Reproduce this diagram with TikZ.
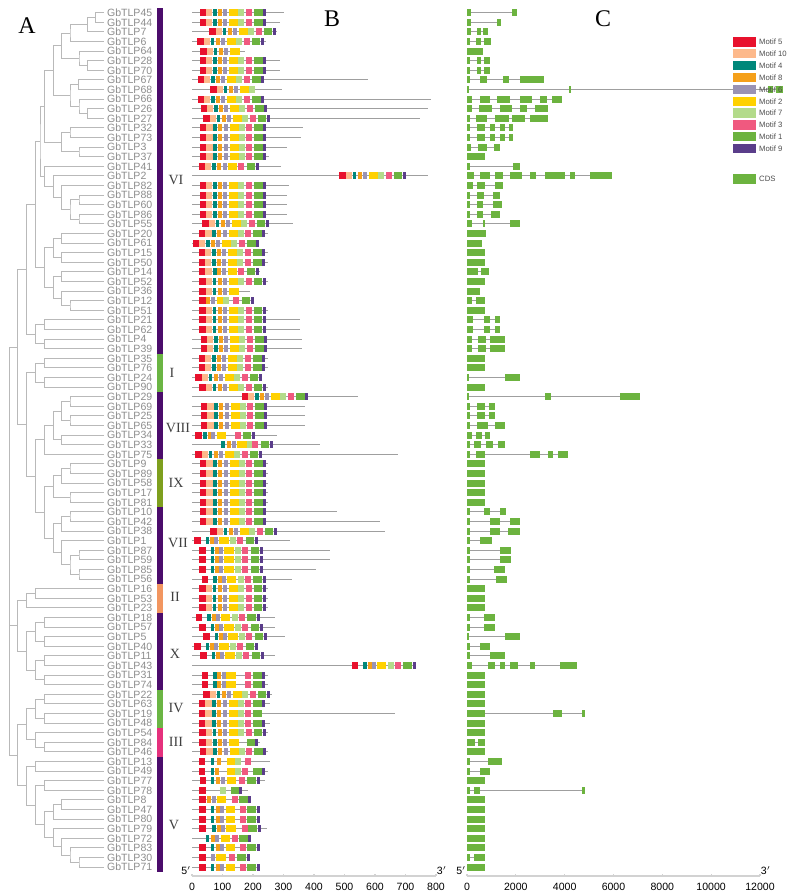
\documentclass[tikz,border=0pt]{standalone}
\usepackage{fontspec}
\setmainfont{Liberation Serif}
\setsansfont{Liberation Sans}
\usetikzlibrary{calc}

% motif colours
\definecolor{mot1}{HTML}{6CB33F}
\definecolor{mot2}{HTML}{FFD100}
\definecolor{mot3}{HTML}{F0597F}
\definecolor{mot4}{HTML}{00877A}
\definecolor{mot5}{HTML}{E8112D}
\definecolor{mot6}{HTML}{9A93B4}
\definecolor{mot7}{HTML}{B3DB8A}
\definecolor{mot8}{HTML}{F5A01A}
\definecolor{mot9}{HTML}{5A3D8A}
\definecolor{mot10}{HTML}{FDB98B}
\definecolor{cdsgreen}{HTML}{6CB33F}
% group colours
\definecolor{grppurple}{HTML}{4B0C6B}
\definecolor{grpgreen}{HTML}{6BB544}
\definecolor{grpolive}{HTML}{7E9F1E}
\definecolor{grporange}{HTML}{F29660}
\definecolor{grppink}{HTML}{E5317D}
\definecolor{labgray}{HTML}{8C8C8C}

% offsets of the motifs, index = motif number
\def\offA{{0,54.3,29.7,46.3,13.3,0,23.7,38.7,18.3,63.3,6.3}}
\def\offB{{0,51.4,24.7,43,11.4,0,20,35.7,15.7,60.7,0}}
\def\motw{{0,8.7,9.5,6,3.7,6.3,4,6,4,3,6.3}}

\newcommand\rowy[1]{\pgfmathsetmacro\yy{12.7+9.6*(#1-1)}}

% protein with template offsets
\newcommand\mrow[5]{%
  \rowy{#1}%
  \draw[pline] (192,\yy) -- (#4,\yy);
  \foreach \k in {#5}{%
    \pgfmathsetmacro\xx{#3+#2[\k]}%
    \pgfmathsetmacro\ww{\motw[\k]}%
    \fill[mot\k] (\xx,\yy-3.5) rectangle ++(\ww,7);
  }}
% protein with explicit positions
\newcommand\xrow[3]{%
  \rowy{#1}%
  \draw[pline] (192,\yy) -- (#2,\yy);
  \foreach \k/\x in {#3}{%
    \pgfmathsetmacro\ww{\motw[\k]}%
    \fill[mot\k] (\x,\yy-3.5) rectangle ++(\ww,7);
  }}
% gene structure
\newcommand\crow[3]{%
  \rowy{#1}%
  \draw[pline] (467,\yy) -- (#2,\yy);
  \foreach \s/\e in {#3}{\fill[cdsgreen] (\s,\yy-3.5) rectangle (\e,\yy+3.5);}}
% tree clade
\newcommand\clade[4]{%
  \coordinate (#1-mid) at ($(#3)!0.5!(#4)$);
  \coordinate (#1-xpos) at (#2,0);
  \coordinate (#1) at (#1-xpos |- #1-mid);
  \draw[branch] (#3) -| (#1) |- (#4);}

\begin{document}
\begin{tikzpicture}[
    x=0.025cm, y=-0.025cm,
    leaf/.style={anchor=west, inner xsep=2pt, inner ysep=0.5pt,
      font=\sffamily\fontsize{7.5}{8}\selectfont, text=labgray},
    branch/.style={draw=gray!55, line width=0.6pt},
    pline/.style={draw=gray!75, line width=0.6pt},
    grp/.style={font=\fontsize{10}{11}\selectfont, text=black!75},
    panel/.style={font=\fontsize{17}{18}\selectfont},
    axis/.style={draw=gray!35, line width=0.8pt},
    ticklab/.style={font=\sffamily\fontsize{7.5}{8}\selectfont, anchor=north},
    leglab/.style={anchor=west, inner sep=1pt, font=\sffamily\fontsize{5.5}{6}\selectfont, text=black!70}
  ]
  \useasboundingbox (0,0) rectangle (788,896);

  % --- panel letters ---
  \node (pA) [panel] at (27,26) {A};
  \node (pB) [panel] at (332,19) {B};
  \node (pC) [panel] at (603,19) {C};

  % --- leaves ---
  \foreach \g [count=\i] in {45,44,7,6,64,28,70,67,68,66,26,27,32,73,3,37,41,2,82,88,60,86,55,
      20,61,15,50,14,52,36,12,51,21,62,4,39,35,76,24,90,29,69,25,65,34,33,75,
      9,89,58,17,81,10,42,38,1,87,59,85,56,16,53,23,18,57,5,40,11,43,31,74,
      22,63,19,48,54,84,46,13,49,77,78,8,47,80,79,72,83,30,71}
    \node[leaf] (g\g) at (104,{12.7+9.6*(\i-1)}) {GbTLP\g};

  % --- tree: group VI ---
  \clade{a1}{95.7}{g45}{g44}
  \clade{a2}{87.3}{a1}{g7}
  \clade{a3}{70}{a2}{g6}
  \clade{a4}{87.3}{g28}{g70}
  \clade{a5}{79}{g64}{a4}
  \clade{a6}{61.7}{a3}{a5}
  \clade{a7}{78.3}{g67}{g68}
  \clade{a8}{87.3}{g26}{g27}
  \clade{a9}{79}{g66}{a8}
  \clade{a10}{70}{a7}{a9}
  \clade{a11}{53.3}{a6}{a10}
  \clade{a12}{70}{g32}{g73}
  \clade{a13}{79}{g3}{g37}
  \clade{a14}{61.7}{a12}{a13}
  \clade{a15}{44.3}{a11}{a14}
  \clade{b1}{79}{g88}{g60}
  \clade{b2}{79}{g86}{g55}
  \clade{b3}{70}{b1}{b2}
  \clade{b4}{61.7}{g82}{b3}
  \clade{b5}{53.3}{g2}{b4}
  \clade{b6}{44.3}{g41}{b5}
  \clade{a16}{40}{a15}{b6}
  \clade{c1}{61.7}{g20}{g61}
  \clade{c2}{61.7}{g15}{g50}
  \clade{c3}{53.3}{c1}{c2}
  \clade{c4}{61.7}{g14}{g52}
  \clade{c5}{70}{g12}{g51}
  \clade{c6}{61.7}{g36}{c5}
  \clade{c7}{53.3}{c4}{c6}
  \clade{c8}{44.3}{c3}{c7}
  \clade{vitop}{35.7}{a16}{c8}
  \clade{c9}{44.3}{g21}{g62}
  \clade{c10}{44.3}{g4}{g39}
  \clade{c11}{35.7}{c9}{c10}
  \clade{vi}{26.7}{vitop}{c11}
  % --- groups I, VIII, IX, VII ---
  \clade{d1}{44.3}{g35}{g76}
  \clade{d2}{44.3}{g24}{g90}
  \clade{d3}{35.7}{d1}{d2}
  \clade{e1}{70}{g29}{g69}
  \clade{e2}{70}{g25}{g65}
  \clade{e3}{61.7}{e1}{e2}
  \clade{e4}{61.7}{g34}{g33}
  \clade{e5}{53.3}{e3}{e4}
  \clade{e6}{44.3}{e5}{g75}
  \clade{f1}{70}{g9}{g89}
  \clade{f2}{61.7}{f1}{g58}
  \clade{f3}{70}{g17}{g81}
  \clade{f4}{53.3}{f2}{f3}
  \clade{h1}{70}{g10}{g42}
  \clade{h2}{61.7}{h1}{g38}
  \clade{h3}{79}{g87}{g59}
  \clade{h4}{79}{g85}{g56}
  \clade{h5}{70}{h3}{h4}
  \clade{h6}{61.7}{g1}{h5}
  \clade{h7}{53.3}{h2}{h6}
  \clade{k1}{44.3}{f4}{h7}
  \clade{k2}{35.7}{e6}{k1}
  \clade{k3}{26.7}{d3}{k2}
  \clade{upper}{17.3}{vi}{k3}
  % --- groups II, X, IV, III, V ---
  \clade{p1}{35.7}{g16}{g53}
  \clade{p2}{26.7}{p1}{g23}
  \clade{q1}{44.3}{g18}{g57}
  \clade{q2}{44.3}{g5}{g40}
  \clade{q3}{35.7}{q1}{q2}
  \clade{q4}{44.3}{g11}{g43}
  \clade{q5}{44.3}{g31}{g74}
  \clade{q6}{35.7}{q4}{q5}
  \clade{q7}{26.7}{q3}{q6}
  \clade{middle}{17.3}{p2}{q7}
  \clade{s1}{44.3}{g22}{g63}
  \clade{s2}{44.3}{g19}{g48}
  \clade{s3}{35.7}{s1}{s2}
  \clade{t1}{44.3}{g84}{g46}
  \clade{t2}{35.7}{g54}{t1}
  \clade{s4}{26.7}{s3}{t2}
  \clade{v1}{35.7}{g13}{g49}
  \clade{v2}{44.3}{g77}{g78}
  \clade{v3}{61.7}{g8}{g47}
  \clade{v4}{53.3}{v3}{g80}
  \clade{v5}{79}{g30}{g71}
  \clade{v6}{70}{g83}{v5}
  \clade{v7}{61.7}{g72}{v6}
  \clade{v8}{53.3}{g79}{v7}
  \clade{v9}{44.3}{v4}{v8}
  \clade{v10}{35.7}{v2}{v9}
  \clade{v11}{26.7}{v1}{v10}
  \clade{lower}{17.3}{s4}{v11}
  % root with three branches
  \coordinate (rtop) at ($(upper)+(-8.3,0)$);
  \coordinate (rmid) at ($(middle)+(-8.3,0)$);
  \coordinate (rbot) at ($(lower)+(-8.3,0)$);
  \draw[branch] (upper) -- (rtop) -- (rbot) -- (lower);
  \draw[branch] (middle) -- (rmid);

  % --- group bars ---
  \fill[grppurple] (157,7.9) rectangle (163,353.5);
  \fill[grpgreen] (157,353.5) rectangle (163,391.9);
  \fill[grppurple] (157,391.9) rectangle (163,459.1);
  \fill[grpolive] (157,459.1) rectangle (163,507.1);
  \fill[grppurple] (157,507.1) rectangle (163,583.9);
  \fill[grporange] (157,583.9) rectangle (163,612.7);
  \fill[grppurple] (157,612.7) rectangle (163,689.5);
  \fill[grpgreen] (157,689.5) rectangle (163,727.9);
  \fill[grppink] (157,727.9) rectangle (163,756.7);
  \fill[grppurple] (157,756.7) rectangle (163,871.9);
  \node (lVI) [grp] at (176,180) {VI};
  \node (lI) [grp] at (172,373) {I};
  \node (lVIII) [grp] at (178,428) {VIII};
  \node (lIX) [grp] at (176,483) {IX};
  \node (lVII) [grp] at (178,543) {VII};
  \node (lII) [grp] at (175,597) {II};
  \node (lX) [grp] at (175,654) {X};
  \node (lIV) [grp] at (176,708) {IV};
  \node (lIII) [grp] at (176,742) {III};
  \node (lV) [grp] at (174,825) {V};

  % --- B: motifs ---
  \mrow{1}{\offA}{199.7}{284}{5,10,4,8,6,2,7,3,1,9}
  \mrow{2}{\offA}{199.7}{280}{5,10,4,8,6,2,7,3,1,9}
  \mrow{3}{\offA}{209.3}{277}{5,10,4,8,6,2,7,3,1,9}
  \mrow{4}{\offA}{197.3}{266}{5,10,4,8,6,2,7,3,1,9}
  \mrow{5}{\offA}{200.3}{245}{5,10,4,8,6,2}
  \mrow{6}{\offA}{199.7}{280}{5,10,4,8,6,2,7,3,1,9}
  \mrow{7}{\offA}{199.7}{280}{5,10,4,8,6,2,7,3,1,9}
  \mrow{8}{\offA}{197.7}{368}{5,10,4,8,6,2,7,3,1,9}
  \mrow{9}{\offA}{210.3}{282}{5,10,4,8,6,2,7}
  \mrow{10}{\offA}{197.7}{431}{5,10,4,8,6,2,7,3,1,9}
  \mrow{11}{\offA}{200.7}{428}{5,10,4,8,6,2,7,3,1,9}
  \mrow{12}{\offA}{203.3}{420}{5,10,4,8,6,2,7,3,1,9}
  \mrow{13}{\offA}{200}{303}{5,10,4,8,6,2,7,3,1,9}
  \mrow{14}{\offA}{200}{301}{5,10,4,8,6,2,7,3,1,9}
  \mrow{15}{\offA}{200}{287}{5,10,4,8,6,2,7,3,1,9}
  \mrow{16}{\offA}{200}{269}{5,10,4,8,6,2,7,3,1,9}
  \xrow{17}{281}{5/198.7,10/205,4/212.3,8/217.3,6/222.7,2/227.7,3/238.3,1/246.7,9/256}
  \mrow{18}{\offA}{339.3}{428}{5,10,4,8,6,2,7,3,1,9}
  \mrow{19}{\offA}{199.7}{289}{5,10,4,8,6,2,7,3,1,9}
  \mrow{20}{\offA}{199.7}{287}{5,10,4,8,6,2,7,3,1,9}
  \mrow{21}{\offA}{199.7}{287}{5,10,4,8,6,2,7,3,1,9}
  \mrow{22}{\offA}{199.7}{287}{5,10,4,8,6,2,7,3,1,9}
  \mrow{23}{\offA}{202.3}{293}{5,10,4,8,6,2,7,3,1,9}
  \mrow{24}{\offA}{199}{268}{5,10,4,8,6,2,7,3,1,9}
  \mrow{25}{\offA}{192.7}{258}{5,10,4,8,6,2,7,3,1,9}
  \mrow{26}{\offA}{198.7}{268}{5,10,4,8,6,2,7,3,1,9}
  \mrow{27}{\offA}{198.7}{268}{5,10,4,8,6,2,7,3,1,9}
  \xrow{28}{260}{5/199.3,10/205.3,4/213.3,8/217,6/222,2/227.7,3/238,1/246.7,9/256}
  \mrow{29}{\offA}{199.3}{268}{5,10,4,8,6,2,7,3,1,9}
  \mrow{30}{\offA}{199.3}{250}{5,10,4,8,6,2}
  \xrow{31}{254}{5/199.3,8/206,6/211,2/216.7,7/223.3,3/233.3,1/241.7,9/250.7}
  \mrow{32}{\offA}{199.3}{268}{5,10,4,8,6,2,7,3,1,9}
  \mrow{33}{\offA}{199.3}{300}{5,10,4,8,6,2,7,3,1,9}
  \mrow{34}{\offA}{199.3}{300}{5,10,4,8,6,2,7,3,1,9}
  \mrow{35}{\offA}{200.7}{302}{5,10,4,8,6,2,7,3,1,9}
  \mrow{36}{\offA}{200.7}{302}{5,10,4,8,6,2,7,3,1,9}
  \mrow{37}{\offA}{198.7}{268}{5,10,4,8,6,2,7,3,1,9}
  \mrow{38}{\offA}{198.7}{268}{5,10,4,8,6,2,7,3,1,9}
  \mrow{39}{\offA}{195.3}{262}{5,10,4,8,6,2,7,3,1,9}
  \mrow{40}{\offA}{199.3}{268}{5,10,4,8,6,2,7,3,1,9}
  \mrow{41}{\offA}{241.7}{358}{5,10,4,8,6,2,7,3,1,9}
  \mrow{42}{\offA}{201}{305}{5,10,4,8,6,2,7,3,1,9}
  \mrow{43}{\offA}{201}{305}{5,10,4,8,6,2,7,3,1,9}
  \mrow{44}{\offA}{201}{305}{5,10,4,8,6,2,7,3,1,9}
  \xrow{45}{277}{5/195.3,4/203.3,8/207.5,6/211,2/216.7,3/235,1/242.7,9/251.7}
  \xrow{46}{320}{4/221,8/226.7,6/232.3,2/237.3,7/246.7,3/252.3,1/260.7,9/270}
  \mrow{47}{\offA}{195.3}{398}{5,10,4,8,6,2,7,3,1,9}
  \mrow{48}{\offA}{200}{268}{5,10,4,8,6,2,7,3,1,9}
  \mrow{49}{\offA}{200}{268}{5,10,4,8,6,2,7,3,1,9}
  \mrow{50}{\offA}{200}{268}{5,10,4,8,6,2,7,3,1,9}
  \mrow{51}{\offA}{200}{268}{5,10,4,8,6,2,7,3,1,9}
  \mrow{52}{\offA}{200}{268}{5,10,4,8,6,2,7,3,1,9}
  \mrow{53}{\offA}{200}{337}{5,10,4,8,6,2,7,3,1,9}
  \mrow{54}{\offA}{200}{380}{5,10,4,8,6,2,7,3,1,9}
  \mrow{55}{\offA}{210.3}{385}{5,10,4,8,6,2,7,3,1,9}
  \mrow{56}{\offB}{194.3}{290}{5,4,8,6,2,7,3,1,9}
  \mrow{57}{\offB}{199.3}{330}{5,4,8,6,2,7,3,1,9}
  \mrow{58}{\offB}{199.3}{330}{5,4,8,6,2,7,3,1,9}
  \mrow{59}{\offB}{199.3}{316}{5,4,8,6,2,7,3,1,9}
  \mrow{60}{\offB}{202}{292}{5,4,8,6,2,7,3,1,9}
  \mrow{61}{\offA}{199.3}{268}{5,10,4,8,6,2,7,3,1,9}
  \mrow{62}{\offA}{199.3}{268}{5,10,4,8,6,2,7,3,1,9}
  \mrow{63}{\offA}{199.3}{268}{5,10,4,8,6,2,7,3,1,9}
  \mrow{64}{\offB}{196}{275}{5,4,8,6,2,7,3,1,9}
  \mrow{65}{\offB}{199.3}{275}{5,4,8,6,2,7,3,1,9}
  \mrow{66}{\offB}{203.3}{285}{5,4,8,6,2,7,3,1,9}
  \mrow{67}{\offB}{194.3}{258}{5,4,8,6,2,7,3,1,9}
  \mrow{68}{\offB}{200.3}{275}{5,4,8,6,2,7,3,1,9}
  \mrow{69}{\offB}{352}{415}{5,4,8,6,2,7,3,1,9}
  \mrow{70}{\offB}{201.7}{268}{5,4,8,6,2,3,1,9}
  \mrow{71}{\offB}{201.7}{268}{5,4,8,6,2,3,1,9}
  \mrow{72}{\offA}{203.3}{272}{5,10,4,8,6,2,7,3,1,9}
  \mrow{73}{\offA}{199}{270}{5,10,4,8,6,2,7,3,1,9}
  \mrow{74}{\offA}{199}{395}{5,10,4,8,6,2,7,3,1}
  \mrow{75}{\offA}{199}{270}{5,10,4,8,6,2,7,3,1,9}
  \mrow{76}{\offA}{199.3}{268}{5,10,4,8,6,2,7,3,1,9}
  \xrow{77}{260}{5/199.3,10/205.6,4/213.3,8/218.3,6/222.7,2/229.3,1/246.7,9/255}
  \mrow{78}{\offA}{200}{268}{5,10,4,8,6,2,7,3,1,9}
  \xrow{79}{270}{5/199,4/210.7,8/216.7,2/226.7,7/235,3/245}
  \xrow{80}{268}{5/199,4/210.7,8/215,2/226.7,7/235,3/242.3,1/253.3,9/262.3}
  \xrow{81}{265}{5/200,4/210.7,8/216,6/220.7,2/226.7,3/239.3,1/247.3,9/256.7}
  \xrow{82}{248}{5/199.3,7/220,1/231,9/239.3}
  \xrow{83}{251}{5/199.3,8/206.7,6/211.7,2/216.7,3/231.7,1/239.3,9/247.7}
  \xrow{84}{260}{5/199.3,4/210.7,8/216,6/220,2/225.7,3/240,1/247.3,9/256.7}
  \xrow{85}{260}{5/199.3,4/210.7,8/216,6/220,2/225.7,3/240,1/247.3,9/256.7}
  \xrow{86}{267}{5/199.3,4/212,8/216.7,6/220.7,2/226,3/241.7,1/248.3,9/257.7}
  \xrow{87}{251}{4/205.7,8/210.7,6/215,2/220.7,3/232.3,1/239,9/248.3}
  \xrow{88}{258}{5/199.3,4/210.7,8/216,6/220,2/225.7,3/240,1/247.3,9/256.7}
  \xrow{89}{250}{5/199.3,6/210.7,2/216,3/229,1/237.3,9/246.7}
  \xrow{90}{258}{5/199.3,4/210.7,8/216,6/220,2/225.7,3/240,1/247.3,9/256.7}

  % --- C: gene structures ---
  \crow{1}{517}{467/470.5,511.5/517}
  \crow{2}{501}{467/470.5,497/501}
  \crow{3}{488}{467/470.5,477/481,483/488}
  \crow{4}{491}{467/470,476/481,484/491}
  \crow{5}{483}{467/483}
  \crow{6}{490}{467/470,477/481,484/490}
  \crow{7}{490}{467/470,477/481,484/490}
  \crow{8}{544}{467/470,480/487,503/509,520/544}
  \crow{9}{783}{467/469,569/571,768/773,776/783}
  \crow{10}{562}{467/472,480/490,497/510,520/532,540/547,552/562}
  \crow{11}{548}{467/472,479/492,500/512,520/527,535/548}
  \crow{12}{548}{467/470,476/487,495/509,512/525,530/548}
  \crow{13}{513}{467/470,477/485,490/495,500/505,509/513}
  \crow{14}{513}{467/470,477/485,490/495,500/505,509/513}
  \crow{15}{500}{467/471,478/487,494/500}
  \crow{16}{485}{467/485}
  \crow{17}{520}{467/470,513/520}
  \crow{18}{612}{467/474,480/490,495/503,510/522,530/536,545/565,570/575,590/612}
  \crow{19}{503}{467/473,477/485,495/503}
  \crow{20}{500}{467/470,477/484,493/500}
  \crow{21}{502}{467/470,477/483,493/502}
  \crow{22}{500}{467/470,477/483,491/500}
  \crow{23}{520}{467/472,483/485,510/520}
  \crow{24}{486}{467/486}
  \crow{25}{482}{467/482}
  \crow{26}{485}{467/485}
  \crow{27}{485}{467/485}
  \crow{28}{489}{467/478,481/489}
  \crow{29}{485}{467/485}
  \crow{30}{480}{467/480}
  \crow{31}{485}{467/472,476/485}
  \crow{32}{485}{467/485}
  \crow{33}{500}{467/473,484/490,495/500}
  \crow{34}{500}{467/473,484/490,495/500}
  \crow{35}{505}{467/472,478/486,490/505}
  \crow{36}{505}{467/472,478/486,490/505}
  \crow{37}{485}{467/485}
  \crow{38}{485}{467/485}
  \crow{39}{520}{467/469,505/520}
  \crow{40}{485}{467/485}
  \crow{41}{640}{467/469,545/551,620/640}
  \crow{42}{495}{467/470,477/485,489/495}
  \crow{43}{495}{467/470,477/485,489/495}
  \crow{44}{505}{467/470,477/488,495/505}
  \crow{45}{490}{467/472,476/482,485/490}
  \crow{46}{505}{467/470,474/481,486/493,498/505}
  \crow{47}{568}{467/470,476/485,530/540,548/553,558/568}
  \crow{48}{485}{467/485}
  \crow{49}{485}{467/485}
  \crow{50}{485}{467/485}
  \crow{51}{485}{467/485}
  \crow{52}{485}{467/485}
  \crow{53}{506}{467/470,484/490,500/506}
  \crow{54}{520}{467/470,490/500,510/520}
  \crow{55}{520}{467/470,490/500,508/520}
  \crow{56}{492}{467/470,480/492}
  \crow{57}{511}{467/470,500/511}
  \crow{58}{511}{467/470,500/511}
  \crow{59}{505}{467/470,494/505}
  \crow{60}{507}{467/470,496/507}
  \crow{61}{485}{467/485}
  \crow{62}{485}{467/485}
  \crow{63}{485}{467/485}
  \crow{64}{495}{467/470,484/495}
  \crow{65}{495}{467/470,484/495}
  \crow{66}{520}{467/469,505/520}
  \crow{67}{490}{467/470,480/490}
  \crow{68}{505}{467/470,490/505}
  \crow{69}{577}{467/472,488/495,500/505,510/518,530/535,560/577}
  \crow{70}{485}{467/485}
  \crow{71}{485}{467/485}
  \crow{72}{485}{467/485}
  \crow{73}{485}{467/485}
  \crow{74}{585}{467/485,553/562,582/585}
  \crow{75}{485}{467/485}
  \crow{76}{485}{467/485}
  \crow{77}{485}{467/475,478/485}
  \crow{78}{485}{467/485}
  \crow{79}{502}{467/470,488/502}
  \crow{80}{490}{467/470,480/490}
  \crow{81}{485}{467/485}
  \crow{82}{585}{467/470,474/480,582/585}
  \crow{83}{485}{467/485}
  \crow{84}{485}{467/485}
  \crow{85}{485}{467/485}
  \crow{86}{485}{467/485}
  \crow{87}{485}{467/485}
  \crow{88}{485}{467/485}
  \crow{89}{485}{467/470,474/485}
  \crow{90}{485}{467/485}

  % --- legend ---
  \foreach \m [count=\i] in {5,10,4,8,6,2,7,3,1,9}{
    \fill[mot\m] (733.3,{37.3+11.86*(\i-1)}) rectangle ++(22.7,9.3);
    \node[leglab] (leg\m) at (757.5,{42+11.86*(\i-1)}) {Motif \m};
  }
  \fill[cdsgreen] (733.3,174.3) rectangle (756,184.3);
  \node (legcds) [leglab] at (757.5,179.3) {CDS};

  % --- axes ---
  \draw[axis] (192,876) -- (436,876);
  \foreach \t in {0,...,8}{
    \draw[axis] ({192+30.5*\t},876) -- ++(0,-2.5);
    \node[ticklab] at ({192+30.5*\t},878) {\pgfmathparse{int(\t*100)}\pgfmathresult};
  }
  \node (b5) [ticklab, anchor=south east, inner sep=0.5pt] at (192,876) {5$'$};
  \node (b3) [ticklab, anchor=south west, inner sep=0.5pt] at (436,876) {3$'$};
  \draw[axis] (467,876) -- (760,876);
  \foreach \t in {0,...,6}{
    \draw[axis] ({467+48.83*\t},876) -- ++(0,-2.5);
    \node[ticklab] at ({467+48.83*\t},878) {\pgfmathparse{int(\t*2000)}\pgfmathresult};
  }
  \node (c5) [ticklab, anchor=south east, inner sep=0.5pt] at (467,876) {5$'$};
  \node (c3) [ticklab, anchor=south west, inner sep=0.5pt] at (760,876) {3$'$};
\end{tikzpicture}
\end{document}
